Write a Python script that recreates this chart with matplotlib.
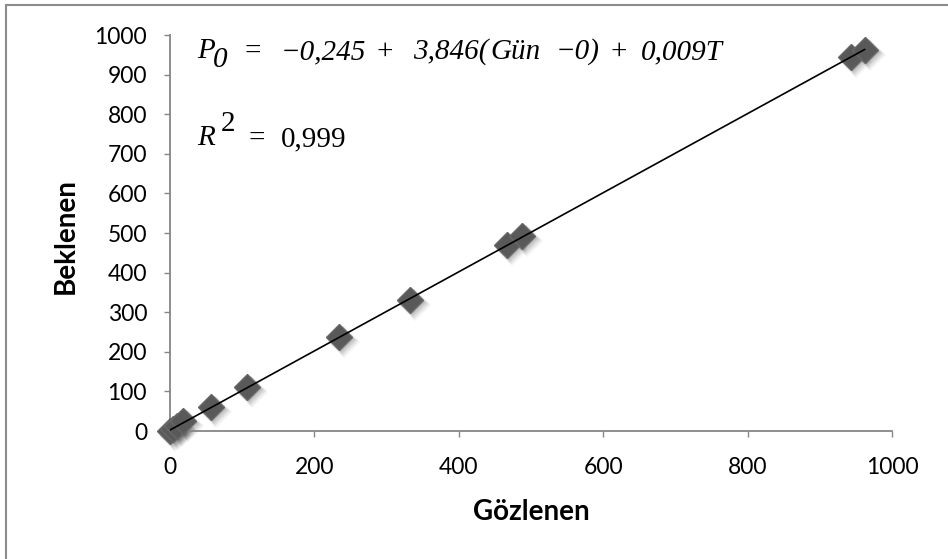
import numpy as np
import matplotlib
matplotlib.use("Agg")
import matplotlib.pyplot as plt
from matplotlib import transforms
from matplotlib.patches import Rectangle

gozlenen = [0, 4, 10, 18, 57, 107, 234, 332, 467, 488, 943, 962]
beklenen = [0, 4, 12, 24, 60, 111, 237, 330, 470, 492, 945, 962]

x_ticks = [0, 200, 400, 600, 800, 1000]
y_ticks = [0, 100, 200, 300, 400, 500, 600, 700, 800, 900, 1000]

# equation pieces: (text, x px, y px, italic)
eq_parts = [
    ('P', 197, 51, True), ('0', 213, 60, True), ('=', 245, 52, False),
    ('\u22120,245', 281, 52, True), ('+', 377, 52, False),
    ('3,846(', 413, 52, True), ('Gün', 490, 52, True), ('\u22120)', 556, 52, True),
    ('+', 611, 52, False), ('0,009T', 641, 52, True),
    ('R', 197, 138, True), ('2', 221, 124, False), ('=', 249, 139, False),
    ('0,999', 281, 139, False),
]

fig = plt.figure(figsize=(9.48, 5.59), dpi=100)
ax = fig.add_axes([170 / 948, 1 - 431 / 559, 722 / 948, 396 / 559])

# outer chart frame (cut off on the right and bottom like the original)
fig.patches.append(Rectangle((6 / 948, -0.1), 1.2, 1 - 5 / 559 + 0.1,
                             transform=fig.transFigure, fill=False,
                             edgecolor='#8c8c8c', linewidth=1.5))

# soft shadow under the markers
for i, (dx, a) in enumerate([(5, 0.06), (4, 0.09), (3, 0.12), (2, 0.15)]):
    tr = transforms.offset_copy(ax.transData, fig=fig, x=dx * 0.72, y=-dx * 0.72, units='points')
    ax.plot(gozlenen, beklenen, 'D', markersize=16.5 - i, color='#404040',
            alpha=a, markeredgewidth=0, transform=tr, clip_on=False)

ax.plot(gozlenen, beklenen, 'D', markersize=13, color='#595959',
        markeredgecolor='#666666', markeredgewidth=1, clip_on=False, zorder=3)

# linear trend line
k, b = np.polyfit(gozlenen, beklenen, 1)
xs = np.array([min(gozlenen), max(gozlenen)])
ax.plot(xs, k * xs + b, color='black', linewidth=1.2, zorder=4)

ax.set_xlim(0, 1000)
ax.set_ylim(0, 1000)
ax.set_xticks(x_ticks)
ax.set_yticks(y_ticks)
for s in ['top', 'right']:
    ax.spines[s].set_visible(False)
for s in ['left', 'bottom']:
    ax.spines[s].set_color('#868686')
    ax.spines[s].set_linewidth(1.3)
ax.tick_params(direction='out', length=4.5, width=1, color='#868686',
               labelsize=16.5)
ax.tick_params(axis='x', pad=14)
ax.tick_params(axis='y', pad=12)
for lbl in ax.get_xticklabels() + ax.get_yticklabels():
    lbl.set_family('Lato')

fig.text(531 / 948, 1 - 512 / 559, 'Gözlenen', fontsize=20, fontweight='bold',
         family='Lato', ha='center', va='center')
fig.text(66 / 948, 1 - 236 / 559, 'Beklenen', fontsize=20, fontweight='bold',
         family='Lato', ha='center', va='center', rotation=90)

for txt, px, py, it in eq_parts:
    fig.text(px / 948, 1 - py / 559, txt, fontsize=21, family='Liberation Serif',
             style='italic' if it else 'normal', ha='left', va='center')

fig.savefig('out.png', dpi=100)
